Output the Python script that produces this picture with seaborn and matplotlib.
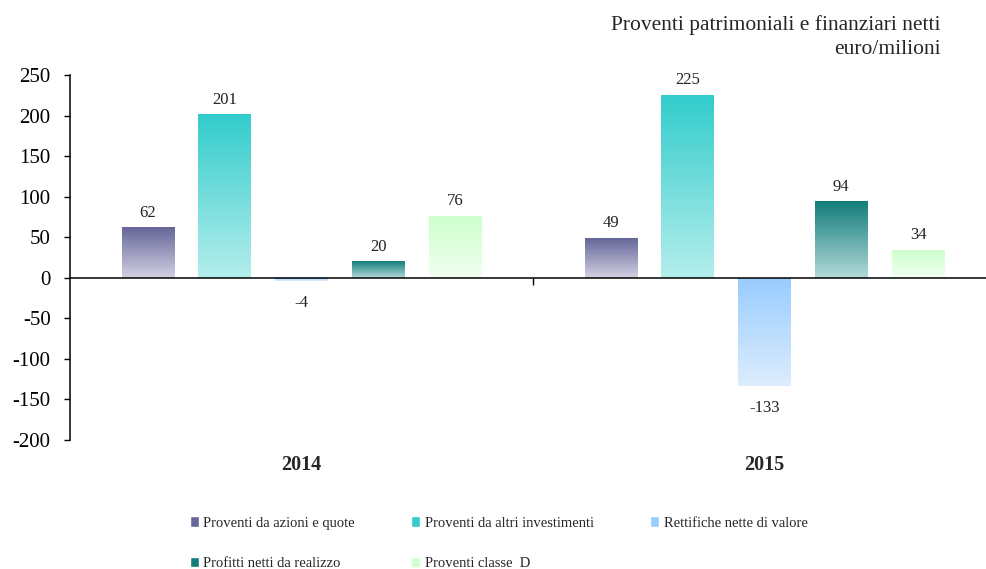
import numpy as np
import pandas as pd
import matplotlib
matplotlib.use("Agg")
import matplotlib.pyplot as plt
import seaborn as sns
from matplotlib.colors import LinearSegmentedColormap
from matplotlib.patches import Patch

# dati (euro/milioni)
anni = ["2014", "2015"]
voci = ["Proventi da azioni e quote", "Proventi da altri investimenti",
        "Rettifiche nette di valore", "Profitti netti da realizzo",
        "Proventi classe  D"]
valori_2014 = [62, 201, -4, 20, 76]
valori_2015 = [49, 225, -133, 94, 34]
colori_alto = ["#666699", "#33cccc", "#99ccff", "#127d7b", "#ccffcc"]
colori_basso = ["#d2d1e3", "#b4eeec", "#ddedfd", "#b3d9d9", "#f2fff2"]

df = pd.DataFrame({
    "anno": np.repeat(anni, len(voci)),
    "voce": voci * 2,
    "valore": valori_2014 + valori_2015,
})

sns.set_style("ticks")
plt.rcParams["font.family"] = ["Liberation Serif", "DejaVu Serif"]
plt.rcParams["axes.unicode_minus"] = False

fig = plt.figure(figsize=(9.86, 5.69), dpi=100)
ax = fig.add_axes([0.071, 0.2267, 0.939, 0.6415])
sns.barplot(data=df, x="anno", y="valore", hue="voce", order=anni,
            hue_order=voci, palette=colori_alto, width=0.83, gap=0.32,
            errorbar=None, legend=False, ax=ax)

# riempimento sfumato come nell'originale
grad = np.linspace(0, 1, 200).reshape(-1, 1)
for cont, c_top, c_bot in zip(ax.containers, colori_alto, colori_basso):
    cmap = LinearSegmentedColormap.from_list("g", [c_bot, c_top])
    for bar in cont:
        x0, y0 = bar.get_x(), bar.get_y()
        w, h = bar.get_width(), bar.get_height()
        lo, hi = min(y0, y0 + h), max(y0, y0 + h)
        ax.imshow(grad, cmap=cmap, extent=[x0, x0 + w, lo, hi],
                  origin="lower", aspect="auto", zorder=2)
        bar.set_visible(False)
    vals = cont.datavalues
    pos = [f"{v:.0f}" if v >= 0 else "" for v in vals]
    neg = [f"{v:.0f}" if v < 0 else "" for v in vals]
    ax.bar_label(cont, labels=pos, padding=5, fontsize=12, color="#222222")
    ax.bar_label(cont, labels=neg, padding=10, fontsize=12, color="#222222")

ax.set_xlim(-0.5, 1.5)
ax.set_ylim(-200, 250)
ax.set_yticks(range(-200, 251, 50))
ax.set_xticks([0.5], [""])
ax.set_xlabel("")
ax.set_ylabel("")
ax.spines["top"].set_visible(False)
ax.spines["right"].set_visible(False)
ax.spines["bottom"].set_position(("data", 0))
ax.spines["bottom"].set_zorder(5)
for s in ("left", "bottom"):
    ax.spines[s].set_linewidth(1.1)
    ax.spines[s].set_color("black")
ax.tick_params(axis="y", labelsize=15, length=4, width=1, pad=10, colors="black")
ax.tick_params(axis="x", length=5, width=1, colors="black")

for i, anno in enumerate(anni):
    ax.text(i, -0.068, anno, transform=ax.get_xaxis_transform(),
            ha="center", va="center", fontsize=14.5, fontweight="bold")

fig.text(0.954, 1 - 25 / 569, "Proventi patrimoniali e finanziari netti",
         ha="right", va="center", fontsize=15.5)
fig.text(0.954, 1 - 50 / 569, "euro/milioni", ha="right", va="center",
         fontsize=15.5)

handles = [Patch(facecolor=c) for c in colori_alto]
ordine = [0, 3, 1, 4, 2]
fig.legend([handles[i] for i in ordine], [voci[i] for i in ordine], ncol=3,
           loc="lower left", bbox_to_anchor=(0.191, -0.004), frameon=False,
           fontsize=10.5, handlelength=0.6, handleheight=0.7,
           handletextpad=0.3, columnspacing=3.9, labelspacing=1.85,
           borderpad=0.1, borderaxespad=0)

fig.savefig("out.png", dpi=100)
